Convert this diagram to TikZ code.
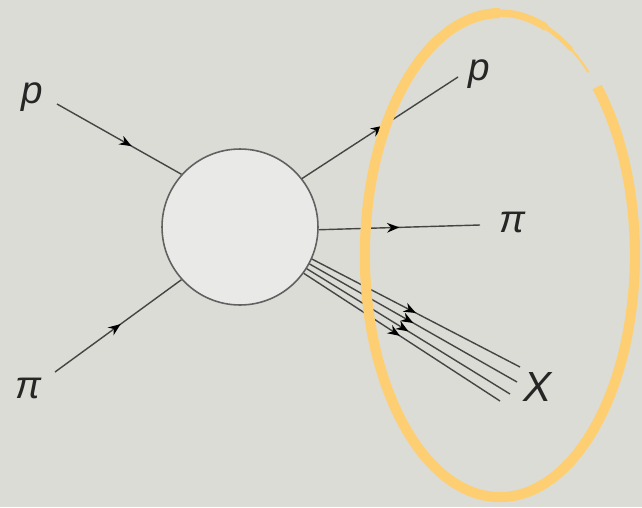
\documentclass[tikz,border=0pt]{standalone}
\usepackage{fontspec}
\setmainfont{Liberation Sans}
\usepackage{tikz}
\usetikzlibrary{arrows.meta,decorations.markings}
\definecolor{paper}{HTML}{DCDCD6}
\definecolor{blobfill}{HTML}{E9E9E8}
\definecolor{ink}{HTML}{454545}
\definecolor{hilite}{HTML}{FDCF72}

\begin{document}
\begin{tikzpicture}[
    x=0.02cm, y=-0.02cm,
    blob/.style={draw=ink!85, line width=0.9pt, circle, fill=blobfill, inner sep=0pt, minimum size=3.12cm},
    lbl/.style={font=\fontsize{22}{24}\selectfont\itshape, text=black!85, inner sep=0pt},
    leg/.style={draw=ink, line width=0.8pt, decoration={markings, mark=at position #1 with {\arrow[black]{Stealth[length=7pt, width=5.5pt]}}}, postaction={decorate}},
    leg/.default=0.55
]
\fill[paper] (0,0) rectangle (642,507);
\useasboundingbox (0,0) rectangle (642,507);

\node[blob] (blob) at (240,227) {};

\node[lbl] (pin) at (32,97) {p};
\node[lbl] (piin) at (28,388) {π};
\node[lbl] (pout) at (479,74) {p};
\node[lbl] (piout) at (512,222) {π};
\node[lbl, font=\fontsize{24}{26}\selectfont\itshape\fontseries{l}] (xout) at (538,387) {X};

\coordinate (pinend) at (57,104);
\coordinate (piinend) at (55,372);
\coordinate (poutend) at (458,77);
\coordinate (pioutend) at (480,225);
\coordinate (xa) at (520,367);
\coordinate (xb) at (517,382);
\coordinate (xc) at (510,394);
\coordinate (xd) at (500,401);

\draw[leg=0.6] (pinend) -- (blob.138);
\draw[leg=0.52] (piinend) -- (blob.222);
\draw[leg=0.52] (blob.38) -- (poutend);
\draw[leg=0.5] (blob.-2) -- (pioutend);
\draw[leg=0.5] (blob.-24) -- (xa);
\draw[leg=0.5] (blob.-28) -- (xb);
\draw[leg=0.5] (blob.-32) -- (xc);
\draw[leg=0.49] (blob.-36) -- (xd);

\draw[hilite, line width=5.8pt] (597,87) arc[start angle=-44, end angle=270, x radius=135, y radius=242];
\draw[hilite, line width=4.2pt] (500,255) ++(270:135 and 242) arc[start angle=270, end angle=290, x radius=135, y radius=242];
\draw[hilite, line width=2.6pt] (500,255) ++(290:135 and 242) arc[start angle=290, end angle=302, x radius=135, y radius=242];
\draw[hilite, line width=1.2pt] (500,255) ++(302:135 and 242) arc[start angle=302, end angle=311, x radius=135, y radius=242];
\end{tikzpicture}
\end{document}
